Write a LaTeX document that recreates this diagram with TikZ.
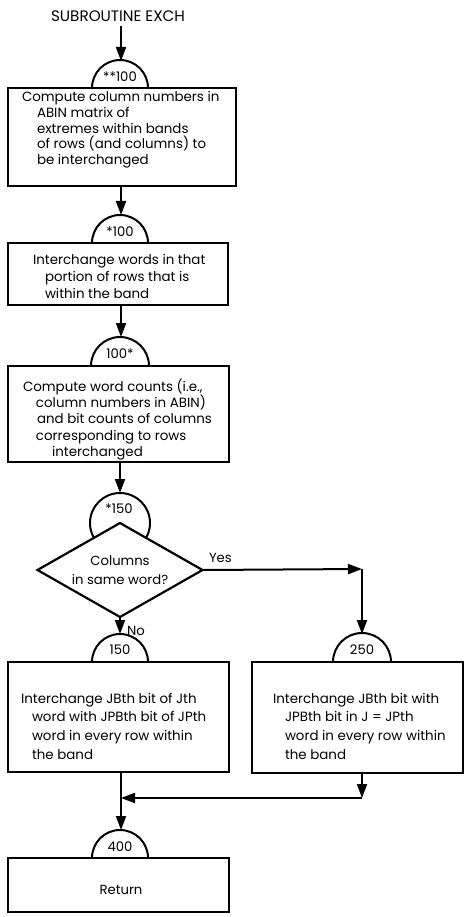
\documentclass[tikz,border=0pt]{standalone}
\usepackage{fontspec}
\setmainfont{Poppins}
\usetikzlibrary{arrows.meta,shapes.geometric}
\begin{document}
\begin{tikzpicture}[x=1pt,y=-1pt,
  every node/.style={inner sep=0pt,outer sep=0pt},
  proc/.style={draw,line width=2.4pt,anchor=north west},
  flow/.style={-{Triangle[length=14pt,width=10pt]},line width=2pt},
  arcline/.style={line width=2pt},
  boxtext/.style={font=\fontsize{13.4}{#1}\selectfont,align=left,anchor=north west},
  boxtext/.default=16,
  lbl/.style={font=\fontsize{13.2}{15}\selectfont},
  title/.style={font=\fontsize{15.2}{17}\selectfont}]
\useasboundingbox (0,0) rectangle (467,917);

% entry
\node[title] (head) at (118,16) {SUBROUTINE EXCH};

% connector circles (arcs) and their labels
\coordinate (a1) at (121,61);
\draw[arcline] (92,88) arc[start angle=180,end angle=0,radius=28pt];
\node[lbl] (l1) at (120,77) {**100};

\node[proc,minimum width=228,minimum height=98] (b1) at (8,88) {};
\node[boxtext=15.7] (t1) at (22,91.5) {Compute column numbers in\\
\hspace*{15pt}ABIN matrix of\\
\hspace*{15pt}extremes within bands\\
\hspace*{15pt}of rows (and columns) to\\
\hspace*{15pt}be interchanged};

\coordinate (a2) at (121,215);
\draw[arcline] (92,243) arc[start angle=180,end angle=0,radius=28pt];
\node[lbl] (l2) at (120,232) {*100};

\node[proc,minimum width=220,minimum height=62] (b2) at (8,243) {};
\node[boxtext=16.8] (t2) at (33,254.5) {Interchange words in that\\
\hspace*{12pt}portion of rows that is\\
\hspace*{12pt}within the band};

\coordinate (a3) at (121,337);
\draw[arcline] (91,366) arc[start angle=180,end angle=0,radius=29pt];
\node[lbl] (l3) at (120,354) {100*};

\node[proc,minimum width=221,minimum height=96] (b3) at (8,366) {};
\node[boxtext=16.2] (t3) at (23,379) {Compute word counts (i.e.,\\
\hspace*{13pt}column numbers in ABIN)\\
\hspace*{14pt}and bit counts of columns\\
\hspace*{13pt}corresponding to rows\\
\hspace*{29pt}interchanged};

% decision with its entry circle
\coordinate (a4) at (120,493);
\draw[arcline] (120,523) circle[radius=30pt];
\node[lbl] (l4) at (119,509) {*150};
\node[diamond,draw,line width=2.2pt,fill=white,minimum width=165,minimum height=94] (dec) at (120,570) {};
\node[lbl,align=center,font=\fontsize{13.2}{19}\selectfont] (dt) at (120,570) {Columns\\in same word?};
\node[lbl,anchor=west] (yes) at (209,558) {Yes};
\node[lbl,anchor=west] (no) at (127,631) {No};

\coordinate (yc) at (362,569);
\coordinate (a5) at (120,634);
\coordinate (a6) at (362,634);

\draw[arcline] (92,662) arc[start angle=180,end angle=0,radius=28pt];
\node[lbl] (l5) at (120,650) {150};
\draw[arcline] (333,662) arc[start angle=180,end angle=0,radius=29pt];
\node[lbl] (l6) at (362,650) {250};

\node[proc,minimum width=221,minimum height=110] (b4) at (8,662) {};
\node[boxtext=18.7] (t4) at (21,693) {Interchange JBth bit of Jth\\
\hspace*{11pt}word with JPBth bit of JPth\\
\hspace*{11pt}word in every row within\\
\hspace*{11pt}the band};

\node[proc,minimum width=211,minimum height=111] (b5) at (252,662) {};
\node[boxtext=18.7] (t5) at (273,693) {Interchange JBth bit with\\
\hspace*{12pt}JPBth bit in J = JPth\\
\hspace*{12pt}word in every row within\\
\hspace*{12pt}the band};

% merge and exit
\coordinate (m1) at (362,798);
\coordinate (m2) at (121,798);
\coordinate (a7) at (121,830);
\draw[arcline] (92,858) arc[start angle=180,end angle=0,radius=28pt];
\node[lbl] (l7) at (120,847) {400};

\node[proc,minimum width=221,minimum height=54] (b6) at (8,858) {};
\node[lbl] (t6) at (121,890) {Return};

% connectors
\draw[flow,shorten <=5pt] (head.south -| a1) -- (a1);
\draw[flow] (b1.south -| a2) -- (a2);
\draw[flow] (b2.south -| a3) -- (a3);
\draw[flow] (b3.south -| a4) -- (a4);
\draw[flow] (dec.south) -- (a5);
\draw[flow] (dec.east) -- (yc);
\draw[flow] (yc) -- (a6);
\draw[flow] (b5.south -| m1) -- (m1);
\draw[flow] (m1) -- (m2);
\draw[flow] (b4.south -| a7) -- (a7);
\end{tikzpicture}
\end{document}
